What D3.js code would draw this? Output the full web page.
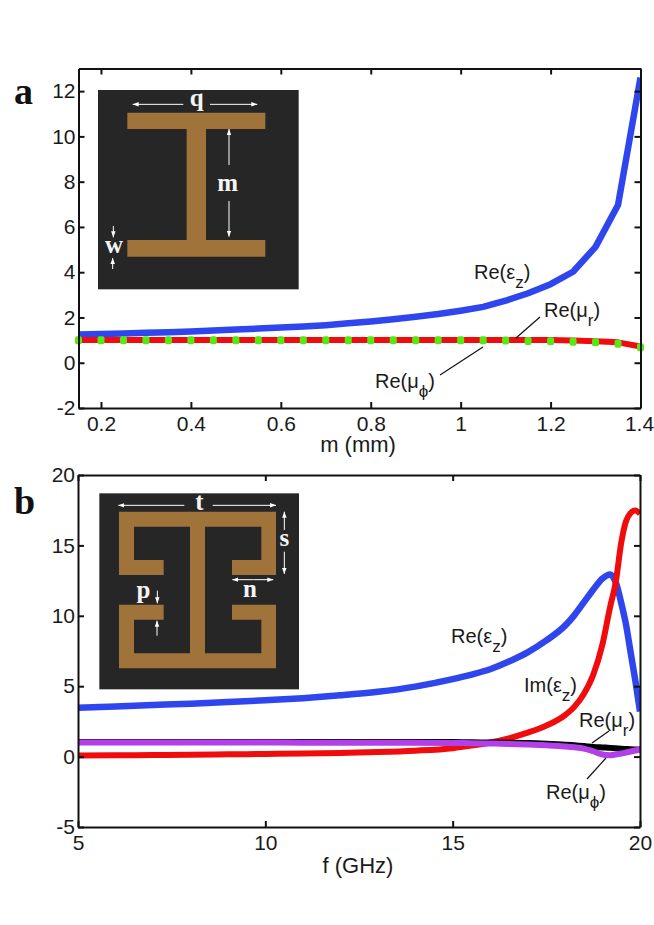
<!DOCTYPE html>
<html><head><meta charset="utf-8">
<script src="https://cdn.jsdelivr.net/npm/d3@7/dist/d3.min.js"></script>
<style>html,body{margin:0;padding:0;background:#fff}svg{display:block}text{font-family:"Liberation Sans",Arial,sans-serif;fill:#1a1a1a}</style>
</head><body><svg id="c" width="654" height="925"></svg>
<script>
// Panel a data
const mValues=[0.15,0.2,0.25,0.3,0.35,0.4,0.45,0.5,0.55,0.6,0.65,0.7,0.75,0.8,0.85,0.9,0.95,1,1.05,1.1,1.15,1.2,1.25,1.3,1.35,1.4];
const aReEpsZ=[1.25,1.27,1.29,1.32,1.35,1.38,1.42,1.47,1.51,1.56,1.6,1.66,1.74,1.82,1.92,2.03,2.15,2.3,2.47,2.74,3.07,3.47,4.02,5.12,6.97,12.6];
const aReMuR=[1,1,1,1,1,1,1,1,1,1,1,1,1,1,1,1,1,1,1,1,1,1,0.98,0.95,0.9,0.72];
const aReMuPhi=[0.99,0.99,0.99,0.99,0.99,0.99,0.99,0.99,0.99,0.99,0.99,0.99,0.99,0.99,0.99,0.99,0.99,0.99,0.99,0.98,0.96,0.95,0.93,0.9,0.84,0.68];
const aXTicks=[0.2,0.4,0.6,0.8,1,1.2,1.4];
const aYTicks=[-2,0,2,4,6,8,10,12];
// Panel b data
const fValues=[5,6,7,8,9,10,11,12,13,14,15,15.5,16,16.5,17,17.5,18,18.25,18.5,18.75,19,19.2,19.35,19.5,19.625,19.75,19.875,20];
const bReEpsZ=[3.47,3.56,3.66,3.76,3.87,4.0,4.15,4.35,4.6,4.97,5.5,5.82,6.2,6.75,7.4,8.25,9.3,10.05,10.95,11.85,12.65,12.93,12.4,10.9,9.4,7.4,5.4,3.2];
const bImEpsZ=[0.07,0.09,0.11,0.13,0.16,0.19,0.22,0.26,0.32,0.42,0.6,0.78,1.0,1.3,1.7,2.2,2.95,3.55,4.45,5.8,8.0,10.6,12.35,15.2,16.7,17.3,17.47,17.25];
const bReMuR=[1.04,1.04,1.04,1.04,1.04,1.04,1.04,1.04,1.04,1.04,1.03,1.02,1.0,0.99,0.97,0.92,0.85,0.8,0.75,0.69,0.65,0.62,0.59,0.56,0.54,0.52,0.51,0.5];
const bReMuPhi=[1.0,1.0,1.0,1.0,1.0,1.0,0.99,0.99,0.98,0.98,0.97,0.95,0.93,0.9,0.86,0.8,0.72,0.66,0.57,0.38,0.15,0.1,0.15,0.22,0.29,0.36,0.43,0.5];
const bXTicks=[5,10,15,20];
const bYTicks=[-5,0,5,10,15,20];
// Inset shapes (inset pixel units at 3x)
const shapeA=[[382,158],[796,158],[796,207],[618,207],[618,540],[796,540],[796,590],[382,590],[382,540],[560,540],[560,207],[382,207]];
const shapeB=[[357,125],[828,125],[828,315],[696,315],[696,270],[784,270],[784,170],[615,170],[615,550],[784,550],[784,449],[696,449],[696,404],[828,404],[828,595],[357,595],[357,404],[491,404],[491,449],[402,449],[402,550],[570,550],[570,170],[402,170],[402,270],[491,270],[491,315],[357,315]];
const arrowsA=[[550,133,398,133],[630,133,772,133],[687,315,687,207],[687,423,687,530],[340,498,340,532],[338,627,338,594]];
const arrowsB=[[553,106,355,106],[638,106,828,106],[853,180,853,125],[853,245,853,312],[760,329,697,329],[760,329,820,329],[472,362,472,400],[471,497,471,452]];
const lettersA=[["q",590,137],["m",683,393],["w",342,579]];
const lettersB=[["t",598,119],["s",853,229],["n",750,380],["p",430,385]];

const svg=d3.select("#c");
const defs=svg.append("defs");
defs.append("marker").attr("id","ah").attr("viewBox","0 0 8 6").attr("refX",8).attr("refY",3)
  .attr("markerWidth",6).attr("markerHeight",4.5).attr("markerUnits","userSpaceOnUse").attr("orient","auto")
  .append("path").attr("d","M0,0L8,3L0,6Z").attr("fill","#fff");

function panel(id,L,R,T,B,xd,yd,xt,yt){
  const x=d3.scaleLinear().domain(xd).range([L,R]);
  const y=d3.scaleLinear().domain(yd).range([B,T]);
  defs.append("clipPath").attr("id",id).append("rect").attr("x",L).attr("y",T).attr("width",R-L).attr("height",B-T);
  return {x,y,xt,yt,L,R,T,B,g:svg.append("g"),clip:`url(#${id})`};
}
function drawAxes(p){
  const fmt=d=>String(d);
  const mk=(ax,tr,vals,lab)=>{
    const g=svg.append("g").attr("transform",tr).call(ax.tickValues(vals).tickSizeInner(-6).tickSizeOuter(0).tickPadding(lab?3:0).tickFormat(lab?fmt:""));
    g.selectAll("path,line").attr("stroke","#111").attr("stroke-width",2);
    g.selectAll("text").attr("font-size",21).attr("fill","#1a1a1a").attr("font-family",'"Liberation Sans"');
    return g;
  };
  mk(d3.axisBottom(p.x),`translate(0,${p.B})`,p.xt,true).selectAll("text").attr("y",22.5).attr("dy",0)
    .attr("dx",d=>String(d).length>2&&d===p.xt[p.xt.length-1]?-1.5:0);
  mk(d3.axisTop(p.x),`translate(0,${p.T})`,p.xt,false);
  mk(d3.axisLeft(p.y),`translate(${p.L},0)`,p.yt,true);
  mk(d3.axisRight(p.y),`translate(${p.R},0)`,p.yt,false);
}
function curve(p,xs,ys,color,w,c){
  p.g.append("path").datum(ys).attr("clip-path",p.clip).attr("fill","none").attr("stroke",color).attr("stroke-width",w)
   .attr("stroke-linejoin","round")
   .attr("d",d3.line().x((d,i)=>p.x(xs[i])).y(d=>p.y(d)).curve(c));
}
function label(x,y,base,sub){
  const t=svg.append("text").attr("x",x).attr("y",y).attr("font-size",20);
  t.append("tspan").text(base);
  t.append("tspan").attr("dy",9).attr("font-size",17).text(sub);
  t.append("tspan").attr("dy",-9).text(")");
}
function leader(a,b,c,d){svg.append("line").attr("x1",a).attr("y1",b).attr("x2",c).attr("y2",d).attr("stroke","#111").attr("stroke-width",1.2);}
function inset(x0,y0,x1,y1,ox,oy,shape,arrows,letters){
  const sx=d3.scaleLinear().domain([0,3]).range([ox,ox+1]);
  const sy=d3.scaleLinear().domain([0,3]).range([oy,oy+1]);
  svg.append("rect").attr("x",sx(x0)).attr("y",sy(y0)).attr("width",sx(x1)-sx(x0)).attr("height",sy(y1)-sy(y0)).attr("fill","#262626");
  svg.append("path").attr("d",d3.line().x(d=>sx(d[0])).y(d=>sy(d[1]))(shape)+"Z").attr("fill","#a0733a");
  svg.selectAll(null).data(arrows).enter().append("line")
    .attr("x1",d=>sx(d[0])).attr("y1",d=>sy(d[1])).attr("x2",d=>sx(d[2])).attr("y2",d=>sy(d[3]))
    .attr("stroke","#fff").attr("stroke-width",1).attr("marker-end","url(#ah)");
  svg.selectAll(null).data(letters).enter().append("text")
    .attr("x",d=>sx(d[1])).attr("y",d=>sy(d[2])).attr("text-anchor","middle").text(d=>d[0])
    .style("font-family",'"Liberation Serif"').style("font-weight","bold").style("fill","#f4f4f4").attr("font-size",25);
}
function bigLetter(t,x,y){svg.append("text").attr("x",x).attr("y",y).text(t).style("font-family",'"Liberation Serif"').style("font-weight","bold").style("fill","#111").attr("font-size",38);}

// Panel a
const pa=panel("ca",78.5,640.5,68.5,408,[0.15,1.4],[-2,13],aXTicks,aYTicks);
curve(pa,mValues,aReEpsZ,"#2f45ee",6.5,d3.curveLinear);
curve(pa,mValues,aReMuR,"#f00c0c",6,d3.curveLinear);
pa.g.selectAll(null).data(aReMuPhi).enter().append("rect")
  .attr("x",(d,i)=>pa.x(mValues[i])-3.5).attr("y",d=>pa.y(d)-4).attr("width",7).attr("height",8).attr("rx",2)
  .attr("fill","#55e815");
drawAxes(pa);
svg.append("text").attr("x",358).attr("y",452).attr("text-anchor","middle").attr("font-size",22).text("m (mm)");
inset(294,90,896,688,0,60,shapeA,arrowsA,lettersA);
bigLetter("a",14,104);
label(474,279,"Re(ε","z");
label(544,317,"Re(μ","r");
label(375,388,"Re(μ","ϕ");
leader(540,317,516,338);
leader(440,375,483,347);

// Panel b
const pb=panel("cb",78,640,475,827,[5,20],[-5,20],bXTicks,bYTicks);
const sm=d3.curveMonotoneX;
curve(pb,fValues,bReEpsZ,"#2f45ee",6.5,sm);
curve(pb,fValues,bImEpsZ,"#f00c0c",6,sm);
curve(pb,fValues,bReMuR,"#000",6,sm);
curve(pb,fValues,bReMuPhi,"#b23fe8",6,sm);
drawAxes(pb);
svg.append("text").attr("x",358).attr("y",873).attr("text-anchor","middle").attr("font-size",22).text("f (GHz)");
inset(298,70,897,658,0,470,shapeB,arrowsB,lettersB);
bigLetter("b",14,514);
label(451,643,"Re(ε","z");
label(524,692,"Im(ε","z");
label(579,727,"Re(μ","r");
label(546,799,"Re(μ","ϕ");
leader(609,731,592,743);
leader(587,779,606,758);
</script></body></html>
